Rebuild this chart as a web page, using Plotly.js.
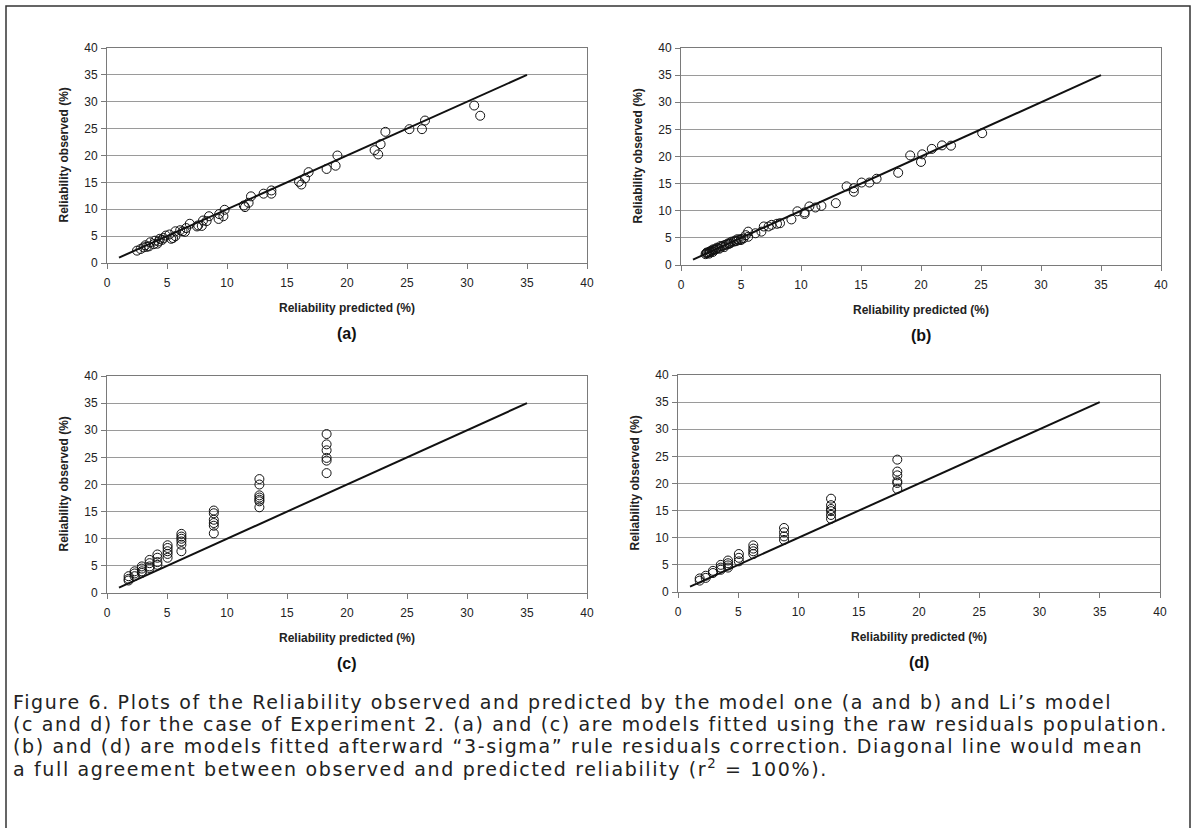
<!DOCTYPE html>
<html>
<head>
<meta charset="utf-8">
<script src="https://cdn.plot.ly/plotly-3.0.1.min.js"></script>
<style>
  html, body { margin: 0; padding: 0; background: #fff; }
  #chart { width: 1197px; height: 828px; }
</style>
</head>
<body>
<div id="chart"></div>
<script>
// ---- Data ----
var diagLine = [1, 35];
var tickVals = [0, 5, 10, 15, 20, 25, 30, 35, 40];
var tickText = ["0", "5", "10", "15", "20", "25", "30", "35", "40"];

// (a) model one, raw residuals
var aPredicted = [30.6, 31.1, 26.5, 26.25, 25.2, 23.2, 22.8, 22.3, 22.6, 19.2, 19.05, 18.3, 16.8, 16.5, 16.0, 16.2,
  13.7, 13.7, 13.05, 12.0, 11.8, 11.4, 11.5, 9.8, 9.7, 9.35, 9.3, 8.5, 8.3, 8.0, 7.9, 7.6, 7.5, 6.9, 6.6, 6.5, 6.1,
  5.7, 5.7, 5.5, 5.35, 4.9, 4.7, 4.6, 4.3, 4.0, 4.2, 3.6, 3.5, 3.2, 3.05, 2.8, 2.5, 3.9, 4.4, 5.2, 6.3, 3.3];
var aObserved = [29.3, 27.4, 26.5, 24.9, 24.9, 24.4, 22.1, 21.0, 20.2, 20.0, 18.1, 17.5, 16.9, 15.75, 15.1, 14.6,
  13.5, 12.9, 12.9, 12.4, 11.2, 10.7, 10.4, 9.9, 8.7, 9.1, 8.2, 8.7, 7.8, 7.9, 6.9, 7.0, 6.8, 7.3, 6.5, 5.8, 6.1,
  5.9, 5.0, 4.65, 4.5, 5.1, 4.65, 4.3, 4.0, 4.15, 3.6, 3.85, 3.1, 3.3, 2.9, 2.6, 2.3, 3.5, 4.5, 5.3, 5.9, 3.0];

// (b) model one, after 3-sigma correction
var bPredicted = [25.1, 22.5, 21.75, 20.9, 20.1, 20.0, 19.1, 18.1, 16.3, 15.7, 15.05, 14.4, 14.4, 13.8, 12.9, 11.7,
  11.2, 10.7, 10.3, 10.3, 9.7, 9.2, 8.25, 8.0, 7.55, 7.3, 6.9, 6.7, 6.2, 5.6, 5.6,
  5.4, 5.2, 5.0, 4.8, 4.7, 4.5, 4.4, 4.2, 4.1, 3.95, 3.8, 3.7, 3.55, 3.4, 3.3, 3.1, 3.0, 2.9, 2.8, 2.7,
  2.6, 2.55, 2.45, 2.4, 2.3, 2.2, 2.15, 2.1, 2.05, 2.35, 2.65, 3.2, 3.6, 4.0, 4.6, 5.0];
var bObserved = [24.3, 22.0, 22.05, 21.4, 20.4, 19.0, 20.2, 17.0, 15.9, 15.2, 15.2, 14.15, 13.5, 14.5, 11.4, 10.9,
  10.6, 10.8, 9.4, 9.7, 9.9, 8.4, 7.7, 7.6, 7.4, 7.1, 7.1, 6.15, 5.85, 6.15, 5.2,
  5.5, 4.9, 4.8, 4.6, 4.75, 4.5, 4.3, 4.3, 4.0, 4.0, 3.8, 3.7, 3.6, 3.4, 3.5, 3.1, 3.2, 2.9, 2.8, 2.9,
  2.6, 2.7, 2.4, 2.5, 2.35, 2.2, 2.3, 2.15, 2.0, 2.1, 2.4, 3.0, 3.3, 3.9, 4.4, 4.6];

// (c) Li's model, raw residuals
var cPredicted = [18.3, 18.3, 18.3, 18.3, 18.3, 18.3,
  12.7, 12.7, 12.7, 12.7, 12.7, 12.7, 12.7,
  8.9, 8.9, 8.9, 8.9, 8.9, 8.9,
  6.2, 6.2, 6.2, 6.2, 6.2, 6.2,
  5.05, 5.05, 5.05, 5.05, 5.05,
  4.2, 4.2, 4.2, 4.2,
  3.55, 3.55, 3.55, 3.55,
  2.9, 2.9, 2.9, 2.9,
  2.3, 2.3, 2.3,
  1.8, 1.8, 1.8];
var cObserved = [29.3, 27.4, 26.3, 24.9, 24.4, 22.1,
  21.0, 20.0, 18.0, 17.6, 17.2, 16.9, 15.8,
  15.2, 14.7, 13.5, 12.9, 12.4, 11.0,
  10.9, 10.4, 10.0, 9.5, 8.9, 7.7,
  8.8, 8.3, 7.7, 7.2, 6.5,
  7.1, 6.5, 5.7, 5.2,
  6.1, 5.5, 4.9, 4.6,
  4.9, 4.5, 4.0, 3.7,
  4.0, 3.6, 3.1,
  3.1, 2.6, 2.3];

// (d) Li's model, after 3-sigma correction
var dPredicted = [18.2, 18.2, 18.2, 18.2, 18.2, 18.2,
  12.7, 12.7, 12.7, 12.7, 12.7, 12.7,
  8.8, 8.8, 8.8, 8.8,
  6.25, 6.25, 6.25, 6.25,
  5.05, 5.05, 5.05,
  4.15, 4.15, 4.15, 4.15,
  3.55, 3.55, 3.55,
  2.9, 2.9,
  2.3, 2.3,
  1.8, 1.8];
var dObserved = [24.4, 22.2, 21.5, 20.4, 20.1, 19.0,
  17.2, 16.0, 15.3, 14.9, 14.2, 13.5,
  11.8, 11.0, 10.25, 9.6,
  8.6, 8.0, 7.5, 7.0,
  7.0, 6.3, 5.65,
  5.8, 5.3, 4.9, 4.5,
  5.0, 4.5, 4.1,
  3.9, 3.5,
  3.0, 2.6,
  2.5, 2.1];

var panelLabels = ["(a)", "(b)", "(c)", "(d)"];
var xTitle = "Reliability predicted (%)";
var yTitle = "Reliability observed (%)";
var captionLines = [
  "Figure 6. Plots of the Reliability observed and predicted by the model one (a and b) and Li’s model",
  "(c and d) for the case of Experiment 2. (a) and (c) are models fitted using the raw residuals population.",
  "(b) and (d) are models fitted afterward “3-sigma” rule residuals correction. Diagonal line would mean",
  "a full agreement between observed and predicted reliability (r<sup>2</sup> = 100%)."
];

// ---- Layout helpers ----
var W = 1197, H = 828;
var panels = [
  {x: aPredicted, y: aObserved, left: 107, right: 587, top: 48, bottom: 263},
  {x: bPredicted, y: bObserved, left: 681, right: 1161, top: 48, bottom: 265},
  {x: cPredicted, y: cObserved, left: 107, right: 587, top: 376, bottom: 593},
  {x: dPredicted, y: dObserved, left: 678, right: 1160, top: 375, bottom: 592}
];

var tickFont = {family: "Liberation Sans, Arial, sans-serif", size: 12, color: "#222"};
var traces = [];
var layout = {
  width: W, height: H,
  margin: {l: 0, r: 0, t: 0, b: 0},
  paper_bgcolor: "#fff",
  plot_bgcolor: "#fff",
  showlegend: false,
  annotations: [],
  shapes: [{
    type: "rect", xref: "paper", yref: "paper",
    x0: 6 / W, x1: 1190 / W, y0: -0.02, y1: 1 - 6 / H,
    line: {color: "#333", width: 1.5}, fillcolor: "rgba(0,0,0,0)"
  }]
};

panels.forEach(function (p, i) {
  var n = i + 1;
  var xa = "xaxis" + (n === 1 ? "" : n), ya = "yaxis" + (n === 1 ? "" : n);
  var xr = "x" + (n === 1 ? "" : n), yr = "y" + (n === 1 ? "" : n);
  var common = {
    range: [0, 40], tickvals: tickVals, ticktext: tickText,
    showline: true, mirror: true, linecolor: "#7a7a7a", linewidth: 1,
    ticks: "outside", ticklen: 5, tickcolor: "#7a7a7a",
    tickfont: tickFont, zeroline: false, fixedrange: true
  };
  layout[xa] = Object.assign({}, common, {
    domain: [p.left / W, p.right / W], anchor: yr, showgrid: false, ticklabelstandoff: 4
  });
  layout[ya] = Object.assign({}, common, {
    domain: [1 - p.bottom / H, 1 - p.top / H], anchor: xr,
    showgrid: true, gridcolor: "#9a9a9a", gridwidth: 1, ticklabelstandoff: 1
  });
  traces.push({
    type: "scatter", mode: "lines", x: diagLine, y: diagLine, xaxis: xr, yaxis: yr,
    line: {color: "#111", width: 2}, hoverinfo: "skip"
  });
  traces.push({
    type: "scatter", mode: "markers", x: p.x, y: p.y, xaxis: xr, yaxis: yr,
    marker: {symbol: "circle-open", size: 9, color: "#111", line: {width: 1, color: "#111"}}
  });
  var cx = (p.left + p.right) / 2;
  layout.annotations.push({
    xref: "paper", yref: "paper", x: cx / W, y: 1 - (p.bottom + 45) / H,
    xanchor: "center", yanchor: "middle", showarrow: false, text: "<b>" + xTitle + "</b>",
    font: {family: "Liberation Sans, Arial, sans-serif", size: 12, color: "#222"}
  });
  layout.annotations.push({
    xref: "paper", yref: "paper", x: cx / W, y: 1 - (p.bottom + 70) / H,
    xanchor: "center", yanchor: "middle", showarrow: false, text: "<b>" + panelLabels[i] + "</b>",
    font: {family: "Liberation Sans, Arial, sans-serif", size: 16, color: "#111"}
  });
  layout.annotations.push({
    xref: "paper", yref: "paper", x: (p.left - 44) / W, y: 1 - ((p.top + p.bottom) / 2) / H,
    xanchor: "center", yanchor: "middle", showarrow: false, textangle: -90, text: "<b>" + yTitle + "</b>",
    font: {family: "Liberation Sans, Arial, sans-serif", size: 12, color: "#222"}
  });
});

var captionY = [702, 724, 746, 768];
var captionStart = layout.annotations.length;
captionLines.forEach(function (t, k) {
  layout.annotations.push({
    xref: "paper", yref: "paper", x: 13 / W, y: 1 - captionY[k] / H,
    xanchor: "left", yanchor: "middle", showarrow: false, align: "left", text: t,
    width: 1176, borderpad: 0, borderwidth: 0,
    font: {family: "DejaVu Sans, sans-serif", size: 19, color: "#222"}
  });
});

Plotly.newPlot("chart", traces, layout, {displayModeBar: false, staticPlot: true}).then(function (gd) {
  // slightly widen the caption tracking so the longest line spans the frame like in the reference
  var els = captionLines.map(function (t, k) {
    return gd.querySelector('g.annotation[data-index="' + (captionStart + k) + '"] text.annotation-text');
  });
  var ref = els[1];
  if (!ref) return;
  var len = ref.getComputedTextLength();
  var n = ref.textContent.length;
  var sp = Math.max(0, (1155 - len) / n);
  els.forEach(function (el) { if (el) el.style.letterSpacing = sp.toFixed(2) + "px"; });
});
</script>
</body>
</html>
